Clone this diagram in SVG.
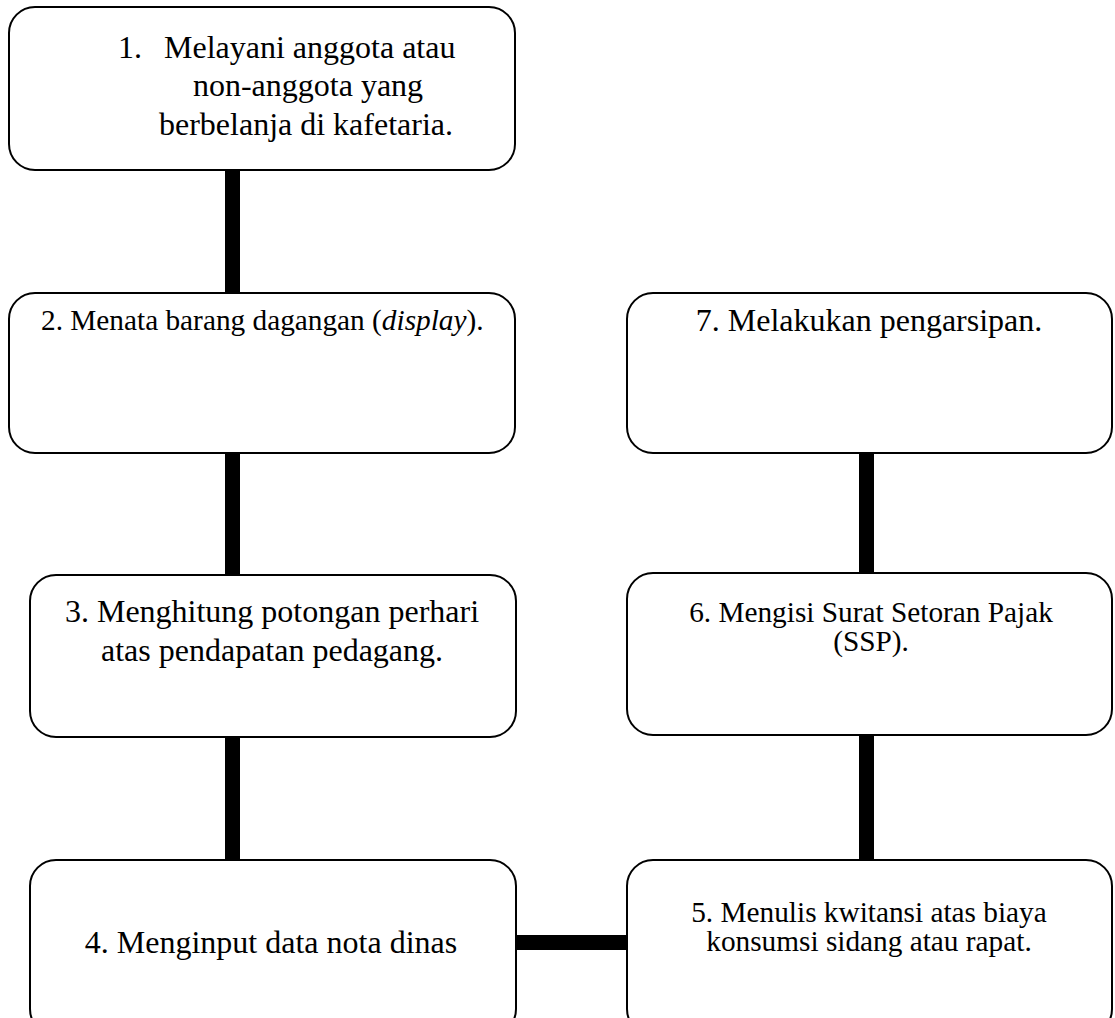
<svg xmlns="http://www.w3.org/2000/svg" width="1115" height="1018" viewBox="0 0 1115 1018">
<style>
.box{fill:#fff;stroke:#000;stroke-width:2}
.t{font-family:"Liberation Serif","Times New Roman",serif;fill:#000}
.l{font-size:32px}
.s{font-size:29.3px}
.c{text-anchor:middle}
.conn{fill:#000}
</style>
<rect width="1115" height="1018" fill="#fff"/>
<g id="connectors">
<rect class="conn" x="225" y="170" width="15" height="123"/>
<rect class="conn" x="225" y="453" width="15" height="122"/>
<rect class="conn" x="225" y="737" width="15" height="123"/>
<rect class="conn" x="859" y="453" width="15" height="120"/>
<rect class="conn" x="859" y="735" width="15" height="125"/>
<rect class="conn" x="516" y="935" width="111" height="15"/>
</g>
<g id="node1">
<rect class="box" x="9" y="7" width="506" height="163" rx="26"/>
<text class="t l" x="118" y="58">1.</text>
<text class="t l" x="164" y="58">Melayani anggota atau</text>
<text class="t l c" x="308" y="96">non-anggota yang</text>
<text class="t l c" x="306" y="135">berbelanja di kafetaria.</text>
</g>
<g id="node2">
<rect class="box" x="9" y="293" width="506" height="160" rx="26"/>
<text class="t s" x="41" y="330">2. Menata barang dagangan (<tspan font-style="italic">display</tspan>).</text>
</g>
<g id="node3">
<rect class="box" x="30" y="575" width="486" height="162" rx="26"/>
<text class="t l c" x="272" y="622">3. Menghitung potongan perhari</text>
<text class="t l c" x="272" y="661">atas pendapatan pedagang.</text>
</g>
<g id="node4">
<rect class="box" x="30" y="860" width="486" height="175" rx="26"/>
<text class="t l c" x="271" y="953">4. Menginput data nota dinas</text>
</g>
<g id="node5">
<rect class="box" x="627" y="860" width="485" height="175" rx="26"/>
<text class="t s c" x="869" y="922">5. Menulis kwitansi atas biaya</text>
<text class="t s c" x="869" y="951">konsumsi sidang atau rapat.</text>
</g>
<g id="node6">
<rect class="box" x="627" y="573" width="485" height="162" rx="26"/>
<text class="t s c" x="871" y="622">6. Mengisi Surat Setoran Pajak</text>
<text class="t s c" x="871" y="651">(SSP).</text>
</g>
<g id="node7">
<rect class="box" x="627" y="293" width="485" height="160" rx="26"/>
<text class="t l c" x="869" y="331">7. Melakukan pengarsipan.</text>
</g>
</svg>
